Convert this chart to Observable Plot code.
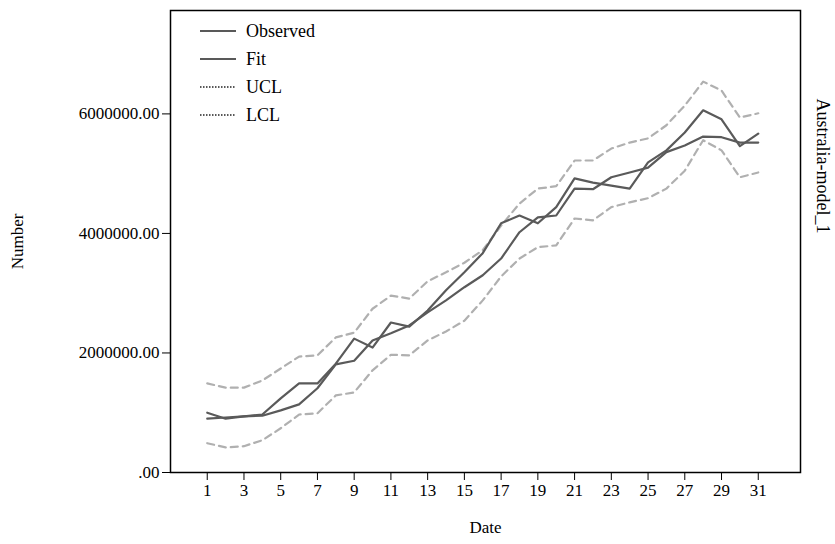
<!DOCTYPE html>
<html><head><meta charset="utf-8">
<script src="https://cdn.jsdelivr.net/npm/d3@7"></script>
<script src="https://cdn.jsdelivr.net/npm/@observablehq/plot@0.6"></script>
<style>
body{margin:0;background:#fff;font-family:"Liberation Serif",serif;}
#wrap{position:relative;width:835px;height:544px;}
#legend{position:absolute;left:200px;top:17px;font-size:18px;}
#legend div{height:28px;display:flex;align-items:center;}
#legend svg{margin-right:10px;}
</style></head>
<body>
<div id="wrap"><div id="chart"></div><div id="legend"></div></div>
<script>
const dates = d3.range(1, 32);
// values in millions
const observed = [1.00,0.90,0.94,0.97,1.24,1.49,1.49,1.82,2.24,2.09,2.51,2.44,2.71,3.05,3.35,3.67,4.17,4.30,4.17,4.44,4.92,4.85,4.80,4.75,5.19,5.39,5.69,6.06,5.91,5.46,5.67];
const fit = [0.90,0.92,0.94,0.95,1.04,1.14,1.41,1.81,1.87,2.21,2.33,2.46,2.68,2.88,3.10,3.30,3.58,4.02,4.27,4.30,4.75,4.74,4.94,5.02,5.10,5.36,5.47,5.62,5.61,5.52,5.52];
const ucl = [1.49,1.42,1.42,1.54,1.74,1.94,1.96,2.26,2.34,2.74,2.96,2.91,3.20,3.35,3.51,3.72,4.13,4.50,4.75,4.79,5.22,5.22,5.42,5.52,5.59,5.81,6.14,6.54,6.39,5.94,6.01];
const lcl = [0.49,0.42,0.44,0.54,0.74,0.97,0.99,1.29,1.34,1.71,1.97,1.96,2.21,2.36,2.54,2.88,3.28,3.58,3.77,3.80,4.25,4.22,4.44,4.52,4.59,4.75,5.05,5.56,5.39,4.94,5.02];
const series = [
  {name: "Observed", vals: observed},
  {name: "Fit", vals: fit},
  {name: "UCL", vals: ucl},
  {name: "LCL", vals: lcl}
];
const rows = series.flatMap(s => s.vals.map((v, i) => ({series: s.name, date: dates[i], value: v * 1e6})));
const solid = rows.filter(d => d.series == "Observed" || d.series == "Fit");
const dashed = rows.filter(d => d.series == "UCL" || d.series == "LCL");

const chart = Plot.plot({
  width: 835,
  height: 544,
  marginLeft: 170,
  marginRight: 35,
  marginTop: 10,
  marginBottom: 72,
  style: {fontFamily: '"Liberation Serif", serif', fontSize: "17px", color: "#000"},
  x: {domain: [-1, 33.3], ticks: d3.range(1, 32, 2), tickFormat: d => d, label: "Date", labelAnchor: "center", labelArrow: "none", labelOffset: 60, tickSize: 8},
  y: {domain: [0, 7.73e6], ticks: [0, 2e6, 4e6, 6e6], tickFormat: d => d === 0 ? ".00" : d.toFixed(2), label: "Number", labelAnchor: "center", labelArrow: "none", labelOffset: 160, tickSize: 8},
  marks: [
    Plot.frame({stroke: "#000", strokeWidth: 1.5}),
    Plot.line(dashed, {x: "date", y: "value", z: "series", stroke: "#b0b0b0", strokeWidth: 2.2, strokeDasharray: "7,5"}),
    Plot.line(solid, {x: "date", y: "value", z: "series", stroke: "#5a5a5a", strokeWidth: 2.2}),
    Plot.text(["Australia-model_1"], {frameAnchor: "right", dx: 22, dy: -8, rotate: 90, fontSize: 18})
  ]
});
d3.select("#chart").append(() => chart);

const leg = d3.select("#legend");
series.forEach(s => {
  const row = leg.append("div");
  const svg = row.append("svg").attr("width", 36).attr("height", 6);
  svg.append("line").attr("x1", 0).attr("x2", 36).attr("y1", 3).attr("y2", 3)
    .attr("stroke", "#222").attr("stroke-width", 1.5)
    .attr("stroke-dasharray", s.name.endsWith("CL") ? "1.5,1.5" : null);
  row.append("span").text(s.name);
});
</script>
</body></html>
